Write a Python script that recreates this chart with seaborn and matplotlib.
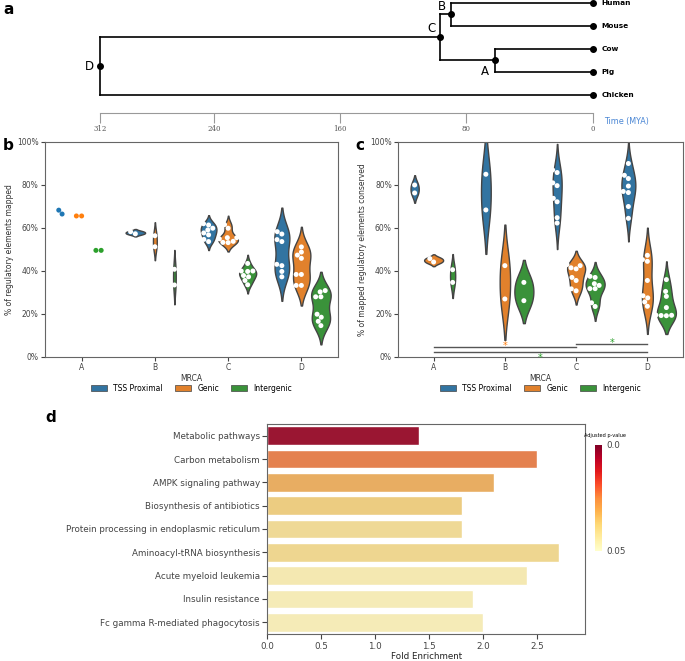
import pandas as pd
import seaborn as sns
import matplotlib as mpl
import matplotlib.pyplot as plt
from matplotlib.patches import Patch
from matplotlib.ticker import PercentFormatter

W, H = 685, 661

# Panel a: species tree (divergence times in MYA)
leaves = ['Human', 'Mouse', 'Cow', 'Pig', 'Chicken']
nodes = ['B', 'A', 'C', 'D']
node_times = [90, 62, 97, 312]
node_children = [('Human', 'Mouse'), ('Cow', 'Pig'), ('B', 'A'), ('C', 'Chicken')]
time_ticks = [312, 240, 160, 80, 0]

# Panels b and c
mrca = ['A', 'B', 'C', 'D']
elem_types = ['TSS Proximal', 'Genic', 'Intergenic']

mapped_tss = [[68.3, 66.5], [58.3, 57.3],
              [62.0, 61.4, 59.9, 59.1, 57.7, 56.8, 54.7, 53.7],
              [58.3, 57.2, 54.6, 53.7, 43.1, 42.5, 39.8, 37.3]]
mapped_genic = [[65.6, 65.6], [56.4, 51.3],
                [61.6, 59.9, 55.5, 55.5, 55.0, 53.8, 53.3, 53.2],
                [51.2, 48.8, 47.4, 45.9, 38.4, 38.4, 33.3, 33.3]]
mapped_inter = [[49.6, 49.6], [40.8, 33.5],
                [43.5, 40.0, 39.8, 40.0, 37.9, 37.3, 35.6, 33.6],
                [30.9, 30.3, 28.0, 28.0, 19.9, 18.5, 16.6, 14.6]]

cons_tss = [[80.0, 76.3], [85.0, 68.4],
            [87.0, 85.8, 81.0, 79.7, 73.8, 72.2, 64.8, 62.3],
            [90.0, 84.5, 83.0, 79.5, 77.0, 76.5, 70.0, 64.5]]
cons_genic = [[45.8, 44.2], [42.5, 27.0],
              [43.0, 42.5, 41.5, 41.0, 37.0, 35.6, 31.7, 30.8],
              [47.3, 45.3, 44.5, 35.6, 28.5, 27.5, 25.6, 23.6]]
cons_inter = [[40.6, 34.7], [34.7, 26.2],
              [37.5, 37.0, 34.1, 33.3, 31.8, 31.8, 25.2, 23.5],
              [36.0, 30.5, 28.2, 23.0, 19.5, 19.4, 19.3, 19.2]]

# significance bars in panel c
sig_pairs = [('A', 'C'), ('A', 'D'), ('C', 'D')]
sig_heights = [4.5, 2.3, 6.0]
star_pairs = [('A', 'C'), ('A', 'D'), ('C', 'D')]
star_heights = [6.1, 0.9, 7.5]
star_types = ['Genic', 'Intergenic', 'Intergenic']

# Panel d: KEGG enrichment
terms = ['Metabolic pathways', 'Carbon metabolism', 'AMPK signaling pathway',
         'Biosynthesis of antibiotics', 'Protein processing in endoplasmic reticulum',
         'Aminoacyl-tRNA biosynthesis', 'Acute myeloid leukemia', 'Insulin resistance',
         'Fc gamma R-mediated phagocytosis']
fold = [1.4, 2.5, 2.1, 1.8, 1.8, 2.7, 2.4, 1.9, 2.0]
padj = [0.005, 0.023, 0.031, 0.0365, 0.040, 0.039, 0.0445, 0.0455, 0.0455]


def to_frame(tss, genic, inter):
    rows = []
    for t, series in zip(elem_types, [tss, genic, inter]):
        for m, vals in zip(mrca, series):
            for v in vals:
                rows.append({'mrca': m, 'type': t, 'value': v})
    return pd.DataFrame(rows)


def px_axes(l, t, r, b):
    return fig.add_axes([l / W, 1 - b / H, (r - l) / W, (b - t) / H])


plt.rcParams['font.family'] = ['DejaVu Sans']
plt.rcParams['axes.edgecolor'] = '#666666'
plt.rcParams['xtick.color'] = '#444444'
plt.rcParams['ytick.color'] = '#444444'

fig = plt.figure(figsize=(6.85, 6.61), dpi=100)

# ---- a: tree
ax_a = px_axes(100.4, 0, 592.5, 112.7)
ax_a.set_xlim(312, 0)
ax_a.set_ylim(4.78, -0.12)
ax_a.patch.set_visible(False)
for s in ['top', 'left', 'right']:
    ax_a.spines[s].set_visible(False)
ax_a.spines['bottom'].set_color('#999999')
ax_a.set_yticks([])
ax_a.set_xticks(time_ticks)
ax_a.set_xticklabels([str(t) for t in time_ticks], family='serif', fontsize=5, color='#555555')
ax_a.tick_params(axis='x', length=7, color='#999999', pad=2)

ypos = {name: i for i, name in enumerate(leaves)}
tpos = {name: 0 for name in leaves}
for n, t, (c1, c2) in zip(nodes, node_times, node_children):
    ypos[n] = (ypos[c1] + ypos[c2]) / 2
    tpos[n] = t
    ax_a.plot([t, t], [ypos[c1], ypos[c2]], color='black', lw=1.2, clip_on=False)
    for c in (c1, c2):
        ax_a.plot([t, tpos[c]], [ypos[c], ypos[c]], color='black', lw=1.2, clip_on=False)
for name in leaves + nodes:
    ax_a.plot(tpos[name], ypos[name], 'o', color='black', ms=4, clip_on=False)
for name in leaves:
    ax_a.annotate(name, (0, ypos[name]), xytext=(9, 0), textcoords='offset pixels',
                  va='center', fontsize=5.3, weight='bold')
node_offsets = {'B': (-9, 8), 'A': (-10, -11), 'C': (-8, 9), 'D': (-11, 0)}
for n in nodes:
    ax_a.annotate(n, (tpos[n], ypos[n]), xytext=node_offsets[n], textcoords='offset pixels',
                  ha='center', va='center', fontsize=8.5)
fig.text(604 / W, 1 - 121.7 / H, 'Time (MYA)', color='#4a86d4', fontsize=5.8, va='center')

# ---- b and c: violins
pal_violin = sns.color_palette('tab10', 3)
pal_white = ['white'] * 3


def violin_panel(ax, df, skip, ylabel):
    vdf = df[~df['mrca'].isin(skip)]
    # densities scaled within each MRCA group
    for m in mrca:
        sub = vdf[vdf['mrca'] == m]
        if sub.empty:
            continue
        sns.violinplot(data=sub, x='mrca', y='value', hue='type', order=mrca,
                       hue_order=elem_types, palette=pal_violin, inner=None, cut=2,
                       linewidth=1, linecolor='#444444', saturation=0.75,
                       density_norm='area', common_norm=True, legend=False, ax=ax)
    sns.swarmplot(data=vdf, x='mrca', y='value', hue='type', order=mrca, hue_order=elem_types,
                  dodge=True, palette=pal_white, size=3.6, legend=False, ax=ax)
    if skip:
        sdf = df[df['mrca'].isin(skip)]
        sns.swarmplot(data=sdf, x='mrca', y='value', hue='type', order=mrca,
                      hue_order=elem_types, dodge=True, palette=pal_violin, size=3.6,
                      legend=False, ax=ax)
    ax.set_ylim(0, 100)
    ax.set_xlim(-0.5, 3.5)
    ax.set_yticks(range(0, 101, 20))
    ax.yaxis.set_major_formatter(PercentFormatter(100, decimals=0))
    ax.tick_params(labelsize=5.5, length=3, width=0.8, pad=1.5)
    ax.set_xlabel('MRCA', fontsize=5.5, labelpad=1.5, color='#333333')
    ax.set_ylabel(ylabel, fontsize=5.5, labelpad=2, color='#333333')
    handles = [Patch(facecolor=c, edgecolor='#444444', lw=0.5)
               for c in sns.color_palette('tab10', 3, desat=0.75)]
    ax.legend(handles, elem_types, loc='center', bbox_to_anchor=(0.5, -0.145), ncol=3,
              frameon=False, fontsize=5.5, handlelength=2.1, handleheight=0.8,
              handletextpad=0.8, columnspacing=1.6)


df_b = to_frame(mapped_tss, mapped_genic, mapped_inter)
df_c = to_frame(cons_tss, cons_genic, cons_inter)

ax_b = px_axes(45, 142, 338, 357)
violin_panel(ax_b, df_b, ['A'], '% of regulatory elements mapped')

ax_c = px_axes(398, 142, 683, 357)
violin_panel(ax_c, df_c, [], '% of mapped regulatory elements conserved')

type_color = dict(zip(elem_types, pal_violin))
for (p1, p2), h in zip(sig_pairs, sig_heights):
    ax_c.plot([mrca.index(p1), mrca.index(p2)], [h, h], color='#555555', lw=1)
for (p1, p2), h, t in zip(star_pairs, star_heights, star_types):
    xm = (mrca.index(p1) + mrca.index(p2)) / 2
    ax_c.text(xm, h - 2.6, '*', color=type_color[t], fontsize=7, ha='center', va='baseline')

# ---- d: enrichment bars
cmap = plt.get_cmap('YlOrRd_r')
norm = mpl.colors.Normalize(0, 0.05)
bar_colors = [cmap(norm(p)) for p in padj]
ax_d = px_axes(267.3, 424, 585, 634)
sns.barplot(x=fold, y=terms, hue=terms, palette=bar_colors, legend=False, saturation=0.75,
            edgecolor='white', linewidth=1, ax=ax_d)
ax_d.set_xlim(0, 2.94)
ax_d.set_xticks([0, 0.5, 1.0, 1.5, 2.0, 2.5])
ax_d.tick_params(labelsize=6.3, length=3.5, width=0.8, pad=2)
ax_d.set_xlabel('Fold Enrichment', fontsize=6.3, labelpad=1, color='#222222')
ax_d.set_ylabel('')

cax = px_axes(595, 445, 602, 551)
cb = fig.colorbar(mpl.cm.ScalarMappable(norm=norm, cmap=cmap), cax=cax, ticks=[0, 0.05])
cax.invert_yaxis()
cb.outline.set_visible(False)
cb.ax.set_yticklabels(['0.0', '0.05'])
cb.ax.tick_params(length=0, labelsize=6.3, pad=3)
fig.text(605.5 / W, 1 - 435 / H, 'Adjusted p-value', fontsize=3.6, ha='center', va='center')

# panel letters
for letter, x, y in [('a', 3, 9), ('b', 3, 146), ('c', 355, 146), ('d', 45, 417)]:
    fig.text(x / W, 1 - y / H, letter, fontsize=11, weight='bold', va='center')

fig.savefig('out.png', dpi=100)
